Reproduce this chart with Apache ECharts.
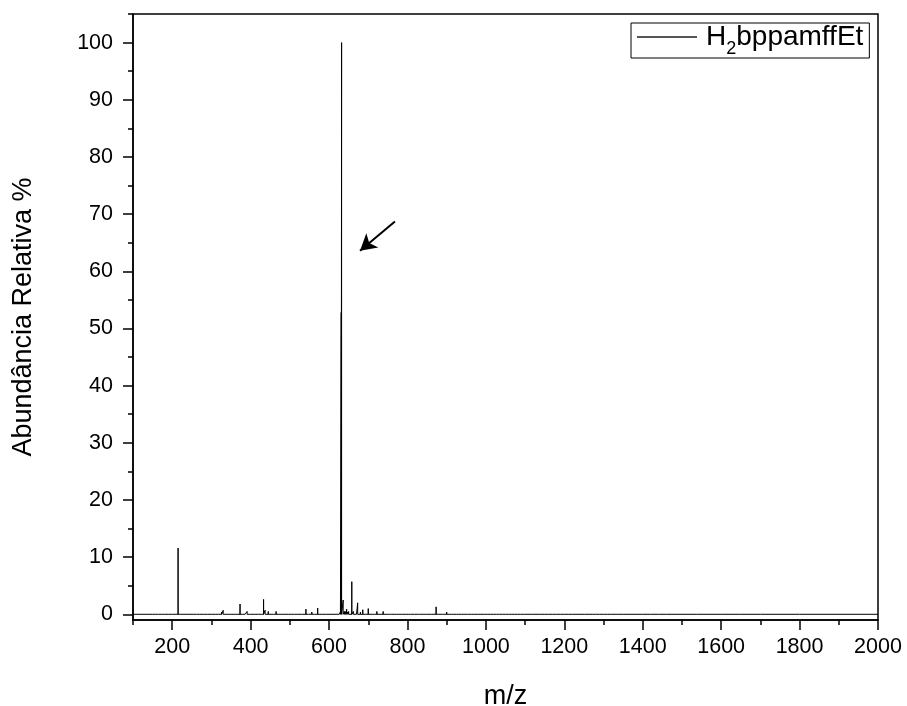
<!DOCTYPE html>
<html>
<head>
<meta charset="utf-8">
<script src="https://cdn.jsdelivr.net/npm/echarts@6/dist/echarts.min.js"></script>
<style>
html,body{margin:0;padding:0;background:#fff;}
#chart{width:907px;height:706px;}
</style>
</head>
<body>
<div id="chart"></div>
<script>
// ---- data ----
const seriesName = 'H2bppamffEt';
const peakMz = [150,158,165,172,180,190,200,207,215,222,230,240,248,255,262,270,280,290,300,310,318,322,326,330,335,340,348,355,362,367,373,380,386,391,396,400,405,410,415,420,427,433,437,441,445,449,452,458,465,470,475,482,490,497,505,512,520,525,530,535,541,545,548,552,556,560,563,567,571,575,580,585,590,595,600,605,610,615,620,624,626,629,631,632,636,639,641,643,645,648,650,654,658,662,665,667,670,673,677,680,683,686,689,692,696,700,705,710,716,722,726,730,734,738,743,748,754,760,766,772,778,785,790,796,802,808,813,818,823,828,834,840,846,852,857,862,867,873,877,880,885,890,895,900,906,912,918,925,931,938,944,950,956,963,969,975,982,990,997,1005,1012,1020,1027,1035,1042,1050,1058,1066,1073,1080,1088,1095,1102,1110,1118,1125,1133,1140,1150,1160,1170,1180,1190,1200,1210,1220,1230,1240,1252,1263,1272,1280,1290,1300,1310,1320,1335,1350,1365,1380,1400,1420,1440,1460,1480,1500,1540,1600,1650,1700,1800];
const peakInt = [0.1,0.1,0.15,0.1,0.15,0.1,0.1,0.15,11.6,0.2,0.15,0.2,0.15,0.1,0.15,0.1,0.1,0.1,0.1,0.1,0.2,0.3,0.4,0.7,0.2,0.1,0.15,0.2,0.15,0.2,1.8,0.2,0.15,0.5,0.15,0.2,0.15,0.2,0.15,0.2,0.2,2.6,0.7,0.3,0.5,0.2,0.3,0.2,0.5,0.2,0.2,0.15,0.2,0.15,0.3,0.2,0.3,0.2,0.3,0.2,0.9,0.2,0.3,0.2,0.4,0.2,0.3,0.2,1.1,0.2,0.3,0.2,0.3,0.2,0.2,0.2,0.2,0.2,0.3,0.2,0.3,0.4,52.8,100,2.5,0.5,0.5,0.4,0.9,0.4,0.5,0.3,5.7,0.5,0.3,0.3,0.3,2.0,0.3,0.4,0.3,0.8,0.3,0.3,0.2,1.0,0.2,0.2,0.2,0.5,0.2,0.2,0.2,0.5,0.2,0.3,0.2,0.2,0.15,0.2,0.15,0.2,0.15,0.3,0.15,0.2,0.15,0.2,0.15,0.2,0.15,0.2,0.15,0.2,0.15,0.2,0.15,1.3,0.2,0.3,0.2,0.2,0.15,0.4,0.2,0.3,0.2,0.2,0.15,0.3,0.15,0.2,0.15,0.2,0.15,0.3,0.15,0.2,0.15,0.2,0.15,0.2,0.15,0.2,0.15,0.3,0.15,0.2,0.15,0.2,0.15,0.2,0.15,0.2,0.1,0.1,0.2,0.1,0.1,0.1,0.15,0.2,0.1,0.1,0.1,0.1,0.1,0.3,0.1,0.1,0.1,0.1,0.1,0.1,0.1,0.1,0.1,0.1,0.1,0.1,0.1,0.1,0.1,0.1,0.1,0.1,0.05,0.05,0.05];
const xRange = [100, 2000];
const yRange = [-1, 105];
const xMajorTicks = [200,400,600,800,1000,1200,1400,1600,1800,2000];
const xMinorTicks = [100,300,500,700,900,1100,1300,1500,1700,1900];
const yMajorTicks = [0,10,20,30,40,50,60,70,80,90,100];
const yMinorTicks = [5,15,25,35,45,55,65,75,85,95,105];
const arrowFrom = [768, 68.7];
const arrowTo = [679, 63.6];

// build stick spectrum line
const lineData = [[xRange[0], 0]];
for (let i = 0; i < peakMz.length; i++) {
  lineData.push([peakMz[i], 0], [peakMz[i], peakInt[i]], [peakMz[i], 0]);
}
lineData.push([xRange[1], 0]);

const FONT = 'Liberation Sans, Arial, sans-serif';
const axisLineStyle = {color: '#000', width: 1.5};

const chart = echarts.init(document.getElementById('chart'), null, {renderer: 'canvas'});
chart.setOption({
  backgroundColor: '#fff',
  animation: false,
  textStyle: {fontFamily: FONT, color: '#000'},
  grid: {left: 133, right: 29, top: 14, bottom: 86, show: true, borderColor: '#000', borderWidth: 1.5,
         backgroundColor: 'transparent', containLabel: false, outerBoundsMode: 'none'},
  legend: {
    left: 631, top: 23,
    padding: [0, 6, 0, 6],
    borderColor: '#000', borderWidth: 1,
    itemWidth: 60, itemHeight: 2,
    icon: 'rect',
    itemStyle: {color: '#555'},
    data: [seriesName],
    formatter: function () { return '{a|H}{b|2}{a|bppamffEt}'; },
    textStyle: {
      fontFamily: FONT, color: '#000', padding: [0, 0, 0, 4],
      rich: {
        a: {fontSize: 28, fontFamily: FONT, color: '#000', lineHeight: 36},
        b: {fontSize: 18, fontFamily: FONT, color: '#000', padding: [24, 0, 0, 0]}
      }
    }
  },
  xAxis: [
    {
      type: 'value', min: xRange[0], max: xRange[1], position: 'bottom',
      name: 'm/z', nameLocation: 'middle', nameGap: 63,
      nameTextStyle: {fontSize: 27, fontFamily: FONT, color: '#000'},
      axisLine: {show: true, onZero: false, lineStyle: axisLineStyle},
      axisTick: {show: true, inside: false, length: 10, customValues: xMajorTicks, lineStyle: axisLineStyle},
      axisLabel: {show: true, customValues: xMajorTicks, fontSize: 21.5, fontFamily: FONT, color: '#000', margin: 16,
                  formatter: function (v) { return String(v); }},
      splitLine: {show: false}
    },
    {
      type: 'value', min: xRange[0], max: xRange[1], position: 'bottom',
      axisLine: {show: false, onZero: false},
      axisTick: {show: true, inside: false, length: 5, customValues: xMinorTicks, lineStyle: axisLineStyle},
      axisLabel: {show: false},
      splitLine: {show: false}
    }
  ],
  yAxis: [
    {
      type: 'value', min: yRange[0], max: yRange[1], position: 'left',
      name: 'Abundância Relativa %', nameLocation: 'middle', nameGap: 96,
      nameTextStyle: {fontSize: 27, fontFamily: FONT, color: '#000'},
      axisLine: {show: true, onZero: false, lineStyle: axisLineStyle},
      axisTick: {show: true, inside: false, length: 10, customValues: yMajorTicks, lineStyle: axisLineStyle},
      axisLabel: {show: true, customValues: yMajorTicks, fontSize: 21.5, fontFamily: FONT, color: '#000', margin: 20,
                  formatter: function (v) { return String(v); }},
      splitLine: {show: false}
    },
    {
      type: 'value', min: yRange[0], max: yRange[1], position: 'left',
      axisLine: {show: false, onZero: false},
      axisTick: {show: true, inside: false, length: 5, customValues: yMinorTicks, lineStyle: axisLineStyle},
      axisLabel: {show: false},
      splitLine: {show: false}
    }
  ],
  series: [{
    name: seriesName,
    type: 'line',
    xAxisIndex: 0, yAxisIndex: 0,
    data: lineData,
    symbol: 'none',
    showSymbol: false,
    lineStyle: {color: '#000', width: 1},
    itemStyle: {color: '#555'},
    z: 3,
    markLine: {
      silent: true,
      symbol: ['none', 'arrow'],
      symbolSize: [14, 16],
      lineStyle: {color: '#000', width: 2, type: 'solid'},
      label: {show: false},
      emphasis: {disabled: true},
      data: [[{coord: arrowFrom}, {coord: arrowTo}]]
    }
  }]
});
</script>
</body>
</html>
